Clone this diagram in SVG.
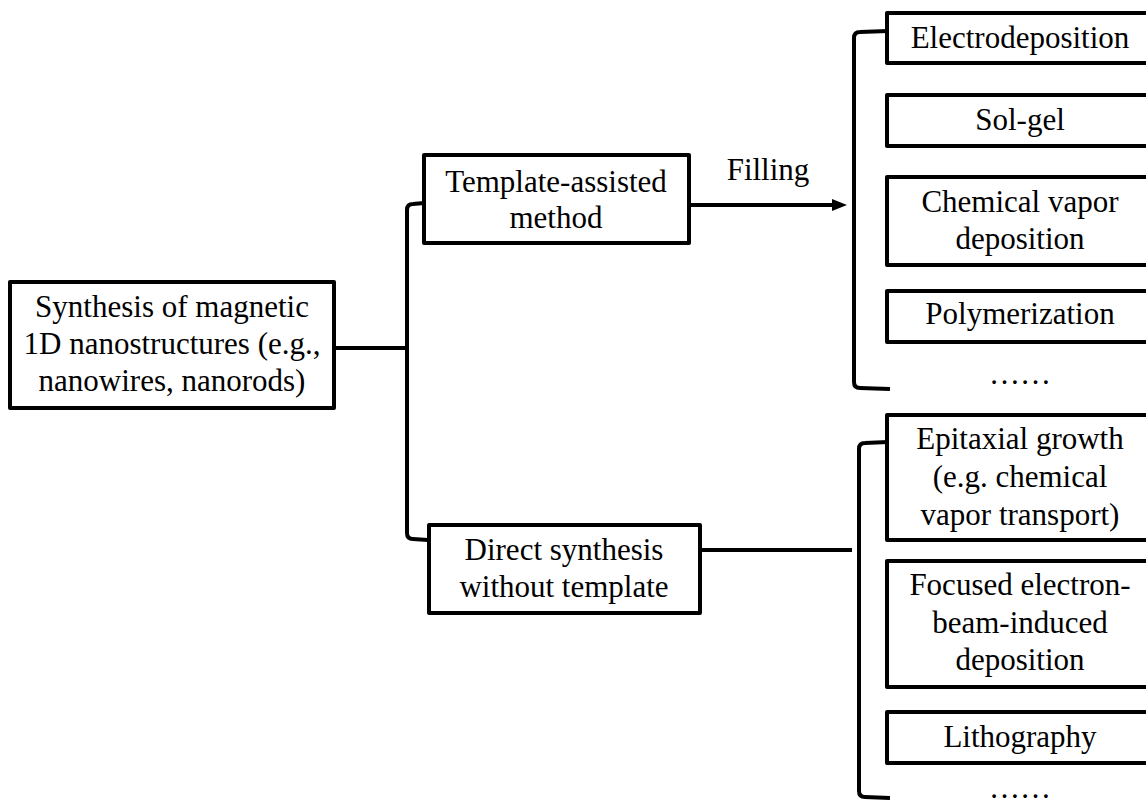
<svg xmlns="http://www.w3.org/2000/svg" width="1146" height="800" viewBox="0 0 1146 800">
<style>
.box{fill:#fff;stroke:#000;stroke-width:4;stroke-linejoin:round}
.ln{fill:none;stroke:#000;stroke-width:4;stroke-linecap:butt;stroke-linejoin:round}
.t{font-size:31px;fill:#000;text-anchor:middle}
</style>
<rect width="1146" height="800" fill="#fff"/>
<g font-family="Liberation Serif, DejaVu Serif, serif">
<g id="connectors">
<path class="ln" d="M334,348 L405,348"/>
<path class="ln" d="M424,203 L413,204 Q407,204 407,210 L407,533 Q407,539 413,539 L428,540"/>
<path class="ln" d="M688,205 L834,205"/>
<polygon points="832,199 847,205 832,211" fill="#000"/>
<path class="ln" d="M700,550 L852,550"/>
<path class="ln" d="M888,31 L860,32 Q854,32 854,38 L854,382 Q854,388 860,388 L890,389"/>
<path class="ln" d="M888,442 L865,443 Q859,443 859,449 L859,791 Q859,797 865,797 L890,798"/>
<text class="t" x="768" y="180">Filling</text>
</g>
<g id="main">
<rect class="box" x="10" y="282" width="324" height="126"/>
<text class="t" x="172" y="317">Synthesis of magnetic</text>
<text class="t" x="172" y="354">1D nanostructures (e.g.,</text>
<text class="t" x="172" y="391">nanowires, nanorods)</text>
</g>
<g id="template">
<rect class="box" x="424" y="155" width="265" height="88"/>
<text class="t" x="556" y="192">Template-assisted</text>
<text class="t" x="556" y="228">method</text>
</g>
<g id="direct">
<rect class="box" x="429" y="525" width="271" height="88"/>
<text class="t" x="564" y="560">Direct synthesis</text>
<text class="t" x="564" y="597">without template</text>
</g>
<g id="electrodeposition">
<rect class="box" x="887" y="13" width="270" height="50"/>
<text class="t" x="1020" y="48">Electrodeposition</text>
</g>
<g id="solgel">
<rect class="box" x="887" y="95" width="270" height="51"/>
<text class="t" x="1020" y="130">Sol-gel</text>
</g>
<g id="cvd">
<rect class="box" x="887" y="177" width="270" height="88"/>
<text class="t" x="1020" y="212">Chemical vapor</text>
<text class="t" x="1020" y="249">deposition</text>
</g>
<g id="polymerization">
<rect class="box" x="887" y="291" width="270" height="51"/>
<text class="t" x="1020" y="324">Polymerization</text>
</g>
<g id="more1">
<text class="t" x="1020" y="384">……</text>
</g>
<g id="epitaxial">
<rect class="box" x="887" y="415" width="270" height="125"/>
<text class="t" x="1020" y="449">Epitaxial growth</text>
<text class="t" x="1020" y="487">(e.g. chemical</text>
<text class="t" x="1020" y="525">vapor transport)</text>
</g>
<g id="febid">
<rect class="box" x="887" y="561" width="270" height="126"/>
<text class="t" x="1020" y="595">Focused electron-</text>
<text class="t" x="1020" y="633">beam-induced</text>
<text class="t" x="1020" y="670">deposition</text>
</g>
<g id="lithography">
<rect class="box" x="887" y="712" width="270" height="51"/>
<text class="t" x="1020" y="747">Lithography</text>
</g>
<g id="more2">
<text class="t" x="1020" y="798">……</text>
</g>
</g>
</svg>
